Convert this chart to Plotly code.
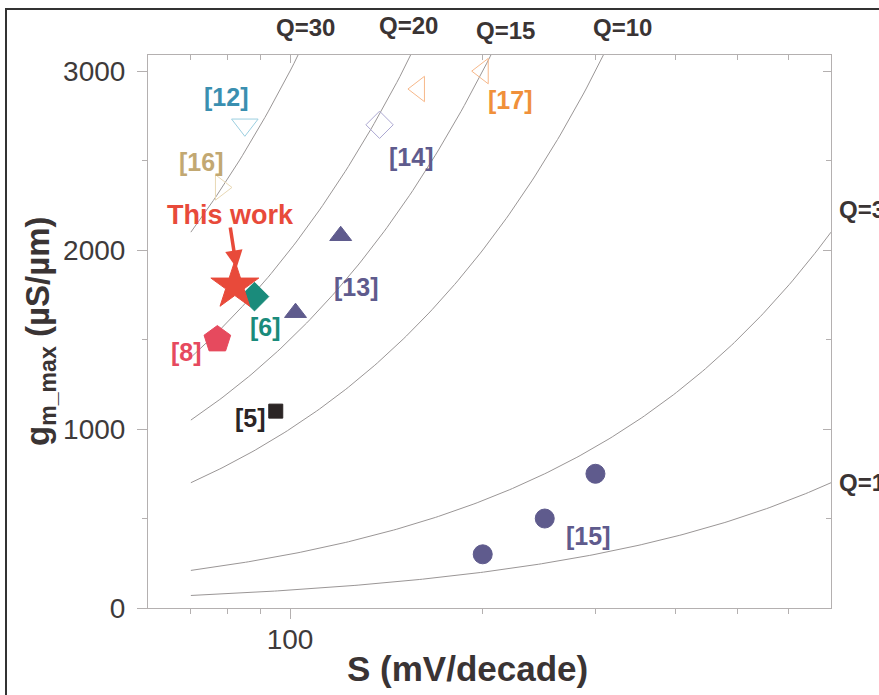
import numpy as np
import plotly.graph_objects as go

# ---------------- data ----------------
q_values = [30, 20, 15, 10, 3, 1]          # iso-Q lines: gm = Q * S
s_line = np.geomspace(70, 700, 200)

this_work_S = [82];   this_work_gm = [1800]
ref6_S = [88];        ref6_gm = [1740]
ref8_S = [77];        ref8_gm = [1500]
ref5_S = [95];        ref5_gm = [1100]
ref13_S = [102, 120]; ref13_gm = [1650, 2080]
ref15_S = [200, 250, 300]; ref15_gm = [300, 500, 750]
ref12_S = [85];       ref12_gm = [2700]
ref16_S = [78];       ref16_gm = [2350]
ref14_S = [138];      ref14_gm = [2700]
ref17_S = [159, 200]; ref17_gm = [2900, 3000]

x_major = [100]
x_minor = [70, 80, 90, 200, 300, 400, 500, 600]
y_major = [0, 1000, 2000, 3000]
y_minor = [500, 1500, 2500]

FONT = "Liberation Sans, Arial, sans-serif"
DARK = "#3a3434"
PURPLE = "#5f5b8d"

fig = go.Figure()

for q in q_values:
    fig.add_trace(go.Scatter(x=s_line, y=q * s_line, mode="lines",
                             line=dict(color="#9a9696", width=1),
                             hoverinfo="skip", showlegend=False))

def pts(x, y, symbol, size, color, lw=1):
    fig.add_trace(go.Scatter(x=x, y=y, mode="markers", showlegend=False,
                             marker=dict(symbol=symbol, size=size, color=color,
                                         line=dict(color=color, width=lw))))

pts(ref12_S, ref12_gm, "triangle-down-open", 23, "#9ccfe0")
pts(ref16_S, ref16_gm, "triangle-right-open", 22, "#e8d8b4")
pts(ref14_S, ref14_gm, "diamond-open", 21, "#aca8d2")
pts(ref17_S, ref17_gm, "triangle-left-open", 22, "#f7b88a")
pts(ref13_S, ref13_gm, "triangle-up", 19, PURPLE)
pts(ref15_S, ref15_gm, "circle", 19, PURPLE)
pts(ref5_S, ref5_gm, "square", 14, "#2b2525")
pts(ref8_S, ref8_gm, "pentagon", 28, "#e64a5e")
pts(ref6_S, ref6_gm, "diamond", 22, "#1a8b7b")
pts(this_work_S, this_work_gm, "star", 36, "#e84a3a")

# overlay axes for inside mirror ticks (top / right)
fig.add_trace(go.Scatter(x=[100], y=[0], xaxis="x2", yaxis="y2", mode="markers",
                         marker=dict(opacity=0), hoverinfo="skip", showlegend=False))

anns = []
labels = [
    ("[12]", 79.5, 2855, "#3a8fb0", 25),
    ("[16]", 72.6, 2492, "#c2a872", 25),
    ("This work", 80.6, 2196, "#e84a3a", 27),
    ("[6]", 91.7, 1570, "#1a8b7b", 25),
    ("[8]", 68.8, 1430, "#e64a5e", 25),
    ("[5]", 86.9, 1061, "#2b2525", 25),
    ("[13]", 126.8, 1793, PURPLE, 25),
    ("[14]", 154.5, 2520, PURPLE, 25),
    ("[17]", 221, 2838, "#f0903a", 25),
    ("[15]", 292, 402, PURPLE, 25),
]
for t, x, y, c, fs in labels:
    anns.append(dict(text=f"<b>{t}</b>", x=np.log10(x), y=y, xref="x", yref="y",
                     xanchor="center", yanchor="middle",
                     showarrow=False, font=dict(family=FONT, size=fs, color=c)))

# arrow for "This work"
anns.append(dict(text="", x=np.log10(82.5), y=1900, xref="x", yref="y",
                 ax=np.log10(80.6), ay=2135, axref="x", ayref="y",
                 showarrow=True, arrowhead=2, arrowsize=1, arrowwidth=3.5,
                 arrowcolor="#e84a3a"))

# Q labels
qlab = [("Q=30", 305, 28), ("Q=20", 408, 26), ("Q=15", 505, 31), ("Q=10", 622, 28)]
for t, px, py in qlab:
    anns.append(dict(text=f"<b>{t}</b>", x=(px - 148) / 683, y=(608 - py) / 553,
                     xref="paper", yref="paper", xanchor="center", yanchor="middle",
                     showarrow=False, font=dict(family=FONT, size=24, color=DARK)))
for t, py in [("Q=3", 210), ("Q=1", 483)]:
    anns.append(dict(text=f"<b>{t}</b>", x=(837 - 148) / 683, y=(608 - py) / 553,
                     xref="paper", yref="paper", xanchor="left", yanchor="middle",
                     showarrow=False, font=dict(family=FONT, size=24, color=DARK)))

# axis titles
anns.append(dict(text="<b>S (mV/decade)</b>", x=(467 - 148) / 683, y=(608 - 668) / 553,
                 xref="paper", yref="paper", xanchor="center", yanchor="middle",
                 showarrow=False, font=dict(family=FONT, size=35, color=DARK)))
anns.append(dict(text="<b>g<sub>m_max</sub> (µS/µm)</b>", x=(40 - 148) / 683,
                 y=(608 - 332) / 553, xref="paper", yref="paper",
                 xanchor="center", yanchor="middle", showarrow=False,
                 textangle=-90, font=dict(family=FONT, size=33, color=DARK)))

axcol = "#b4b0b0"
tickfont = dict(family=FONT, size=28, color="#3e3a3a")
fig.update_layout(
    width=879, height=695,
    margin=dict(l=148, r=48, t=55, b=87),
    paper_bgcolor="white", plot_bgcolor="white",
    annotations=anns,
    xaxis=dict(type="log", range=[np.log10(60), np.log10(700)],
               tickvals=x_major, ticktext=["100"], ticks="outside", ticklen=10,
               tickcolor=axcol, tickfont=tickfont, showgrid=False, zeroline=False,
               showline=True, linecolor=axcol, linewidth=1, ticklabelstandoff=-4,
               minor=dict(tickvals=x_minor, ticks="outside", ticklen=5,
                          tickcolor=axcol, showgrid=False)),
    yaxis=dict(range=[0, 3090], tickvals=y_major, ticks="outside", ticklen=10,
               tickcolor=axcol, tickfont=tickfont, showgrid=False, zeroline=False,
               showline=True, linecolor=axcol, linewidth=1, ticklabelstandoff=6,
               minor=dict(tickvals=y_minor, ticks="outside", ticklen=5,
                          tickcolor=axcol, showgrid=False)),
    xaxis2=dict(type="log", range=[np.log10(60), np.log10(700)], overlaying="x",
                side="top", tickvals=x_major, ticks="inside", ticklen=8,
                tickcolor=axcol, showticklabels=False, showgrid=False,
                showline=True, linecolor=axcol, linewidth=1,
                minor=dict(tickvals=x_minor, ticks="inside", ticklen=5,
                           tickcolor=axcol, showgrid=False)),
    yaxis2=dict(range=[0, 3090], overlaying="y", side="right", tickvals=y_major,
                ticks="inside", ticklen=8, tickcolor=axcol, showticklabels=False,
                showgrid=False, zeroline=False, showline=True, linecolor=axcol,
                linewidth=1,
                minor=dict(tickvals=y_minor, ticks="inside", ticklen=5,
                           tickcolor=axcol, showgrid=False)),
    shapes=[dict(type="rect", xref="paper", yref="paper",
                 x0=(6 - 148) / 683, x1=1.2, y0=-0.3, y1=(608 - 9) / 553,
                 line=dict(color="#333333", width=2), layer="below")],
)

fig.write_html("out.html")
